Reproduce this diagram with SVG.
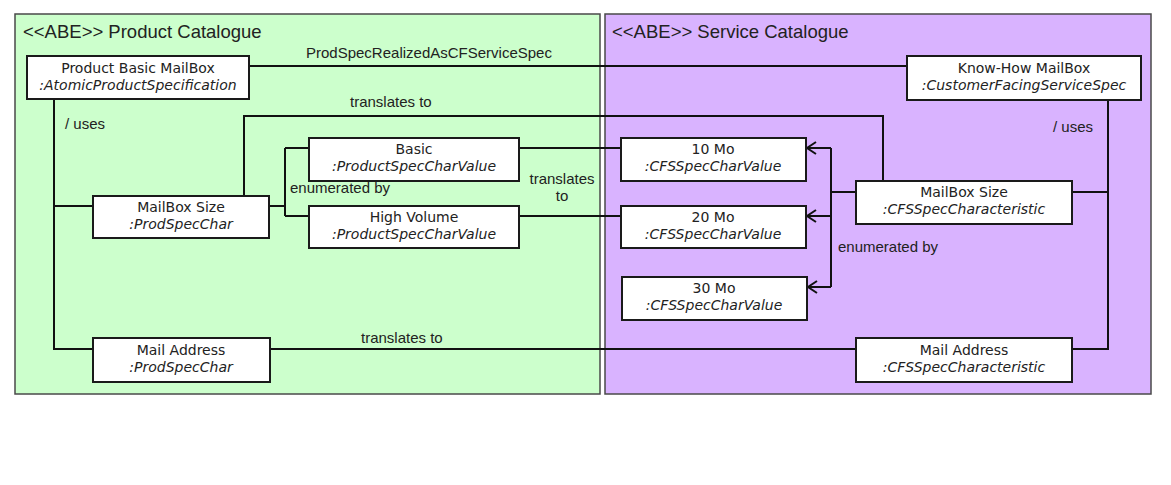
<svg xmlns="http://www.w3.org/2000/svg" width="1171" height="485" viewBox="0 0 1171 485">
<style>
.panel{stroke:#4a4a4a;stroke-width:1.5}
.box{fill:#fff;stroke:#1a1a1a;stroke-width:2}
.t1{font-family:"DejaVu Sans",sans-serif;font-size:14px;fill:#222;text-anchor:middle}
.t2{font-family:"DejaVu Sans",sans-serif;font-size:14px;font-style:italic;fill:#222;text-anchor:middle}
.title{font-family:"Liberation Sans",Arial,sans-serif;font-size:18.5px;fill:#222}
.lbl{font-family:"Liberation Sans",Arial,sans-serif;font-size:15px;fill:#222}
.c{fill:none;stroke:#111;stroke-width:2}
</style>
<defs>
<marker id="open" viewBox="-11 -8 13 16" refX="0" refY="0" markerWidth="13" markerHeight="16" markerUnits="userSpaceOnUse" orient="auto">
<path d="M-9,-6 L0,0 L-9,6" fill="none" stroke="#111" stroke-width="2"/>
</marker>
</defs>
<rect width="1171" height="485" fill="#fff"/>
<g id="product-catalogue">
<rect class="panel" x="15" y="14" width="585" height="380" fill="#CCFFCC"/>
<text class="title" x="23" y="38">&lt;&lt;ABE&gt;&gt; Product Catalogue</text>
</g>
<g id="service-catalogue">
<rect class="panel" x="605" y="14" width="546" height="380" fill="#D9B3FF"/>
<text class="title" x="612" y="38">&lt;&lt;ABE&gt;&gt; Service Catalogue</text>
</g>
<g id="connectors">
<path class="c" d="M249,66 H907"/>
<path class="c" d="M54,99 V349 H93 M54,206 H93"/>
<path class="c" d="M244,196 V116 H883 V181"/>
<path class="c" d="M269,206 H285 M285,148 V216 M285,148 H309 M285,216 H309"/>
<path class="c" d="M519,148 H621 M519,216 H621"/>
<path class="c" d="M856,192 H831 M831,148 V287"/>
<path class="c" d="M831,148 H807" marker-end="url(#open)"/>
<path class="c" d="M831,216 H807" marker-end="url(#open)"/>
<path class="c" d="M831,287 H808" marker-end="url(#open)"/>
<path class="c" d="M1108,100 V349 H1072 M1108,192 H1072"/>
<path class="c" d="M270,349 H856"/>
<text class="lbl" x="306" y="58">ProdSpecRealizedAsCFServiceSpec</text>
<text class="lbl" x="65" y="129">/ uses</text>
<text class="lbl" x="1053" y="132">/ uses</text>
<text class="lbl" x="350" y="107">translates to</text>
<text class="lbl" x="290" y="193">enumerated by</text>
<text class="lbl" x="562" y="184" text-anchor="middle">translates</text>
<text class="lbl" x="562" y="201" text-anchor="middle">to</text>
<text class="lbl" x="838" y="252">enumerated by</text>
<text class="lbl" x="361" y="343">translates to</text>
</g>
<g id="product-basic-mailbox">
<rect class="box" x="27" y="56" width="222" height="43"/>
<text class="t1" x="138" y="73">Product Basic MailBox</text>
<text class="t2" x="138" y="90">:AtomicProductSpecification</text>
</g>
<g id="know-how-mailbox">
<rect class="box" x="907" y="56" width="234" height="44"/>
<text class="t1" x="1024" y="73">Know-How MailBox</text>
<text class="t2" x="1024" y="90">:CustomerFacingServiceSpec</text>
</g>
<g id="mailbox-size-prod">
<rect class="box" x="93" y="196" width="176" height="42"/>
<text class="t1" x="181" y="212">MailBox Size</text>
<text class="t2" x="181" y="229">:ProdSpecChar</text>
</g>
<g id="basic">
<rect class="box" x="309" y="138" width="210" height="43"/>
<text class="t1" x="414" y="154">Basic</text>
<text class="t2" x="414" y="171">:ProductSpecCharValue</text>
</g>
<g id="high-volume">
<rect class="box" x="309" y="206" width="210" height="42"/>
<text class="t1" x="414" y="222">High Volume</text>
<text class="t2" x="414" y="239">:ProductSpecCharValue</text>
</g>
<g id="mo10">
<rect class="box" x="621" y="138" width="185" height="43"/>
<text class="t1" x="713" y="154">10 Mo</text>
<text class="t2" x="713" y="171">:CFSSpecCharValue</text>
</g>
<g id="mo20">
<rect class="box" x="621" y="206" width="185" height="42"/>
<text class="t1" x="713" y="222">20 Mo</text>
<text class="t2" x="713" y="239">:CFSSpecCharValue</text>
</g>
<g id="mo30">
<rect class="box" x="622" y="277" width="185" height="43"/>
<text class="t1" x="714" y="293">30 Mo</text>
<text class="t2" x="714" y="310">:CFSSpecCharValue</text>
</g>
<g id="mailbox-size-cfs">
<rect class="box" x="856" y="181" width="216" height="43"/>
<text class="t1" x="964" y="197">MailBox Size</text>
<text class="t2" x="964" y="214">:CFSSpecCharacteristic</text>
</g>
<g id="mail-address-prod">
<rect class="box" x="93" y="338" width="177" height="44"/>
<text class="t1" x="181" y="355">Mail Address</text>
<text class="t2" x="181" y="372">:ProdSpecChar</text>
</g>
<g id="mail-address-cfs">
<rect class="box" x="856" y="338" width="216" height="44"/>
<text class="t1" x="964" y="355">Mail Address</text>
<text class="t2" x="964" y="372">:CFSSpecCharacteristic</text>
</g>
</svg>
